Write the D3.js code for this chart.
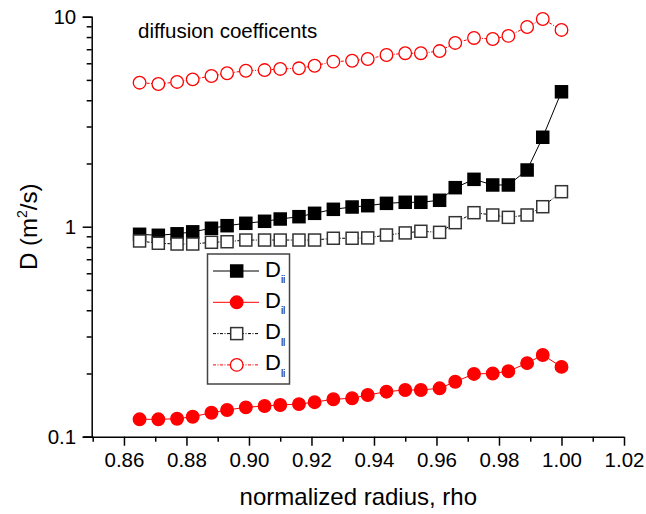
<!DOCTYPE html>
<html>
<head>
<meta charset="utf-8">
<script src="https://cdn.jsdelivr.net/npm/d3@7"></script>
<style>
  html, body { margin: 0; padding: 0; background: #fff; }
  svg text { font-family: "Liberation Sans", Arial, sans-serif; fill: #000; }
</style>
</head>
<body>
<div id="chart"></div>
<script>
// normalized radius values
const rho = [0.865, 0.871, 0.877, 0.882, 0.888, 0.893, 0.899, 0.905, 0.910, 0.916, 0.921, 0.927, 0.933,
             0.938, 0.944, 0.950, 0.955, 0.961, 0.966, 0.972, 0.978, 0.983, 0.989, 0.994, 1.000];

// diffusion coefficients (m^2/s)
const Dii = [0.92, 0.91, 0.925, 0.945, 0.983, 1.011, 1.038, 1.061, 1.088, 1.116, 1.158, 1.210, 1.241,
             1.259, 1.292, 1.307, 1.307, 1.336, 1.534, 1.681, 1.580, 1.580, 1.862, 2.666, 4.39];
const Dil = [0.121, 0.121, 0.1218, 0.1245, 0.130, 0.134, 0.138, 0.140, 0.1416, 0.143, 0.146, 0.1508, 0.1524,
             0.158, 0.1638, 0.1669, 0.1669, 0.170, 0.1827, 0.199, 0.200, 0.205, 0.224, 0.245, 0.215];
const Dll = [0.855, 0.834, 0.827, 0.827, 0.843, 0.848, 0.864, 0.864, 0.864, 0.864, 0.864, 0.881, 0.881,
             0.884, 0.913, 0.934, 0.951, 0.940, 1.045, 1.166, 1.137, 1.108, 1.137, 1.245, 1.468];
const Dli = [4.85, 4.78, 4.89, 5.03, 5.22, 5.38, 5.53, 5.57, 5.64, 5.68, 5.84, 6.11, 6.17,
             6.29, 6.57, 6.70, 6.70, 6.86, 7.50, 7.92, 7.83, 8.10, 8.93, 9.75, 8.65];

const xMajorTicks = [0.86, 0.88, 0.90, 0.92, 0.94, 0.96, 0.98, 1.00, 1.02];
const xMinorTicks = [0.85, 0.87, 0.89, 0.91, 0.93, 0.95, 0.97, 0.99, 1.01];
const yMajorTicks = [0.1, 1, 10];
const yMinorTicks = [0.2, 0.3, 0.4, 0.5, 0.6, 0.7, 0.8, 0.9, 2, 3, 4, 5, 6, 7, 8, 9];

const series = [
  { key: 'ii', values: Dii, color: '#000', symbol: 'square', filled: true,  dash: null },
  { key: 'il', values: Dil, color: '#ff0000', symbol: 'circle', filled: true,  dash: null },
  { key: 'll', values: Dll, color: '#000', symbol: 'square', filled: false, dash: '3 1.5 1 1.5' },
  { key: 'li', values: Dli, color: '#ff0000', symbol: 'circle', filled: false, dash: '3 1.5 1 1.5' },
];

const width = 646, height = 514;
const svg = d3.select('#chart').append('svg')
  .attr('width', width).attr('height', height);

const x = d3.scaleLinear().domain([0.85, 1.02]).range([92.7, 624]);
const y = d3.scaleLog().domain([0.1, 10]).range([436.7, 16.7]);

// x axis
const xAxisG = svg.append('g').attr('transform', `translate(0,${y(0.1)})`);
xAxisG.call(d3.axisBottom(x).tickValues(xMajorTicks).tickSize(9).tickPadding(7)
  .tickFormat(d3.format('.2f')));
xAxisG.selectAll('text').attr('font-size', 20.5);
const xMinorG = svg.append('g').attr('transform', `translate(0,${y(0.1)})`);
xMinorG.call(d3.axisBottom(x).tickValues(xMinorTicks).tickSize(5).tickFormat(''));
xMinorG.select('.domain').remove();

// y axis
const yAxisG = svg.append('g').attr('transform', `translate(${x(0.85) - 1},0)`);
yAxisG.call(d3.axisLeft(y).tickValues(yMajorTicks).tickSize(9).tickPadding(6.5)
  .tickFormat(d3.format('')));
yAxisG.selectAll('text').attr('font-size', 20.5);
const yMinorG = svg.append('g').attr('transform', `translate(${x(0.85) - 1},0)`);
yMinorG.call(d3.axisLeft(y).tickValues(yMinorTicks).tickSize(5).tickFormat(''));
yMinorG.select('.domain').remove();

svg.selectAll('.domain, .tick line').attr('stroke', '#000').attr('stroke-width', 1.5);
xAxisG.select('.domain').attr('d', `M${x(0.85) - 9},0.5H${x(1.02)}`);

// axis titles
svg.append('text')
  .attr('x', (x(0.85) + x(1.02)) / 2).attr('y', 505)
  .attr('text-anchor', 'middle').attr('font-size', 24)
  .text('normalized radius, rho');

const yTitle = svg.append('text')
  .attr('transform', `translate(37,${(y(0.1) + y(10)) / 2}) rotate(-90)`)
  .attr('text-anchor', 'middle').attr('font-size', 24);
yTitle.append('tspan').text('D (m');
yTitle.append('tspan').attr('font-size', 14).attr('dy', -10).text('2');
yTitle.append('tspan').attr('dy', 10).text('/s)');

svg.append('text')
  .attr('x', 138).attr('y', 38.3)
  .attr('font-size', 20.5)
  .text('diffusion coefficents');

// series
const line = d3.line().x((d) => x(d[0])).y((d) => y(d[1]));

function drawSymbol(g, s, cx, cy) {
  if (s.symbol === 'square') {
    g.append('rect')
      .attr('x', cx - 6).attr('y', cy - 6).attr('width', 12).attr('height', 12)
      .attr('fill', s.filled ? s.color : '#fff')
      .attr('stroke', s.filled ? s.color : '#333')
      .attr('stroke-width', 1.5);
  } else {
    g.append('circle')
      .attr('cx', cx).attr('cy', cy).attr('r', 6.3)
      .attr('fill', s.filled ? s.color : '#fff')
      .attr('stroke', s.color)
      .attr('stroke-width', 1.3);
  }
}

series.forEach((s) => {
  const pts = rho.map((r, i) => [r, s.values[i]]);
  const g = svg.append('g');
  g.append('path')
    .attr('d', line(pts))
    .attr('fill', 'none')
    .attr('stroke', s.color)
    .attr('stroke-width', 1)
    .attr('stroke-dasharray', s.dash);
  pts.forEach((p) => drawSymbol(g, s, x(p[0]), y(p[1])));
});

// legend
const legend = svg.append('g');
legend.append('rect')
  .attr('x', 207.5).attr('y', 254).attr('width', 82).attr('height', 130)
  .attr('fill', '#fff').attr('stroke', '#444').attr('stroke-width', 1.5);

series.forEach((s, i) => {
  const ry = 271 + i * 31.3;
  legend.append('line')
    .attr('x1', 213).attr('x2', 259).attr('y1', ry).attr('y2', ry)
    .attr('stroke', s.color).attr('stroke-width', 1)
    .attr('stroke-dasharray', s.dash);
  drawSymbol(legend, s, 236.7, ry);
  const t = legend.append('text').attr('x', 265).attr('y', ry + 5.5).attr('font-size', 22);
  t.append('tspan').text('D');
  t.append('tspan').attr('font-size', 10).attr('dy', 6.5).text(s.key);
});
</script>
</body>
</html>
